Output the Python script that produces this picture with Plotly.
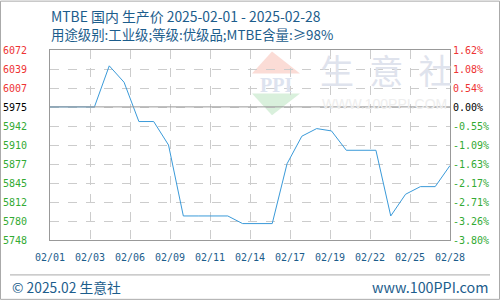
import plotly.graph_objects as go
import pandas as pd

# ---- data ----
dates = ["2025-02-%02d" % d for d in range(1, 29)]
prices = [5975, 5975, 5975, 5975, 6045, 6017, 5950, 5950, 5910, 5789,
          5789, 5789, 5789, 5776, 5776, 5776, 5878, 5925, 5938, 5934,
          5901, 5901, 5901, 5789, 5826, 5839, 5839, 5875]
left_labels = ["5748", "5780", "5812", "5845", "5877", "5910", "5942", "5975", "6007", "6039", "6072"]
right_labels = ["-3.80%", "-3.26%", "-2.71%", "-2.17%", "-1.63%", "-1.09%", "-0.55%", "0.00%", "0.54%", "1.08%", "1.62%"]
x_labels = ["02/01", "02/03", "02/06", "02/09", "02/11", "02/14", "02/17", "02/19", "02/22", "02/25", "02/28"]
base_price = 5975
y_min, y_max = 5748, 6072

title = "MTBE 国内 生产价 2025-02-01 - 2025-02-28"
subtitle = "用途级别:工业级;等级:优级品;MTBE含量:≥98%"

# ---- geometry ----
W, H = 500, 300
L, R, T, B = 50, 450, 49.5, 240
def px(x):
    return (x - L) / (R - L)
def py(y):
    return (B - y) / (B - T)

RED, GREEN, BLACK = "#ee3333", "#33aa33", "#000000"
BLUE_TXT = "#1c5d8c"

n = len(left_labels)
tickvals = [y_min + (y_max - y_min) * i / (n - 1) for i in range(n)]

def colored(labels):
    out = []
    for v, lab in zip(tickvals, labels):
        if abs(v - base_price) < 1:
            c = BLACK
        elif v > base_price:
            c = RED
        else:
            c = GREEN
        out.append('<span style="color:%s">%s</span>' % (c, lab))
    return out

start = pd.Timestamp(dates[0])
end = pd.Timestamp(dates[-1])
step = (end - start) / (len(x_labels) - 1)
xtickvals = [(start + step * k).strftime("%Y-%m-%d %H:%M:%S") for k in range(len(x_labels))]

fig = go.Figure()
fig.add_trace(go.Scatter(x=dates, y=prices, mode="lines",
                         line=dict(color="#3a9ad9", width=1), showlegend=False))
fig.add_trace(go.Scatter(x=dates, y=prices, mode="lines", yaxis="y2",
                         line=dict(color="rgba(0,0,0,0)", width=0), showlegend=False,
                         hoverinfo="skip"))

mono = "DejaVu Sans Mono"
fig.update_layout(
    width=W, height=H,
    margin=dict(l=L, r=W - R, t=T, b=H - B, autoexpand=False),
    paper_bgcolor="white", plot_bgcolor="white",
    xaxis=dict(type="date", range=[dates[0], dates[-1]], tickvals=xtickvals, ticktext=x_labels,
               showgrid=True, gridcolor="#cccccc", griddash="dash", gridwidth=1, automargin=False,
               showline=True, linecolor="#999999", mirror=True, ticks="", ticklabelstandoff=8,
               tickfont=dict(family=mono, size=10, color=BLUE_TXT), zeroline=False),
    yaxis=dict(range=[y_min, y_max], tickvals=tickvals, ticktext=colored(left_labels),
               showgrid=True, gridcolor="#cccccc", griddash="dash", gridwidth=1, automargin=False,
               showline=True, linecolor="#999999", mirror=True, ticks="", zeroline=False,
               ticklabelstandoff=20,
               tickfont=dict(family=mono, size=10, color=BLACK)),
    yaxis2=dict(range=[y_min, y_max], tickvals=tickvals, ticktext=colored(right_labels),
                overlaying="y", side="right", showgrid=False, zeroline=False, ticks="",
                ticklabelstandoff=2, automargin=False,
                tickfont=dict(family=mono, size=10, color=BLACK)),
)

shapes = []
# watermark logo
shapes.append(dict(type="path", xref="paper", yref="paper", layer="below",
                   path="M %f %f L %f %f L %f %f Z" % (px(272), py(51), px(252), py(73), px(300), py(73)),
                   fillcolor="#fbdcd6", line=dict(width=0)))
shapes.append(dict(type="path", xref="paper", yref="paper", layer="below",
                   path="M %f %f L %f %f L %f %f Z" % (px(252), py(93), px(300), py(93), px(272), py(115)),
                   fillcolor="#d9f0dc", line=dict(width=0)))
# base line
shapes.append(dict(type="line", xref="paper", yref="y", x0=0, x1=1, y0=base_price, y1=base_price,
                   line=dict(color="#999999", width=1)))
# footer separator
shapes.append(dict(type="line", xref="paper", yref="paper", x0=px(10), x1=px(490), y0=py(275), y1=py(275),
                   line=dict(color="#aaaaaa", width=1)))
# outer border
shapes.append(dict(type="rect", xref="paper", yref="paper", x0=px(0.5), x1=px(499.5), y0=py(0.5), y1=py(299.5),
                   line=dict(color="#aaaaaa", width=1), fillcolor="rgba(0,0,0,0)"))
fig.update_layout(shapes=shapes)

cjk = "Noto Sans CJK SC"
ann = []
ann.append(dict(text="<b>PPI</b>", x=px(276), y=py(85), xref="paper", yref="paper", showarrow=False,
                font=dict(family="Liberation Serif", size=20, color="#dde3ef"), xanchor="center", yanchor="middle"))
ann.append(dict(text="生  意  社", x=px(386), y=py(69), xref="paper", yref="paper", showarrow=False,
                font=dict(family=cjk, size=34, color="#dfe3ed"), xanchor="center", yanchor="middle"))
ann.append(dict(text="WWW.100PPI.COM", x=px(384), y=py(104), xref="paper", yref="paper", showarrow=False,
                font=dict(family="Liberation Sans", size=14, color="#eeeeee"), xanchor="center", yanchor="middle"))
ann.append(dict(text=title, x=px(49), y=py(15), xref="paper", yref="paper", showarrow=False,
                font=dict(family=cjk, size=13.9, color=BLUE_TXT), xanchor="left", yanchor="middle"))
ann.append(dict(text=subtitle, x=px(49), y=py(33), xref="paper", yref="paper", showarrow=False,
                font=dict(family=cjk, size=13.4, color=BLUE_TXT), xanchor="left", yanchor="middle"))
ann.append(dict(text="© 2025.02 生意社", x=px(10), y=py(287), xref="paper", yref="paper", showarrow=False,
                font=dict(family=cjk, size=13.8, color=BLUE_TXT), xanchor="left", yanchor="middle"))
ann.append(dict(text="www.100PPI.com", x=px(490), y=py(287), xref="paper", yref="paper", showarrow=False,
                font=dict(family=cjk, size=14.3, color=BLUE_TXT), xanchor="right", yanchor="middle"))
fig.update_layout(annotations=ann)

fig.write_html("out.html")
